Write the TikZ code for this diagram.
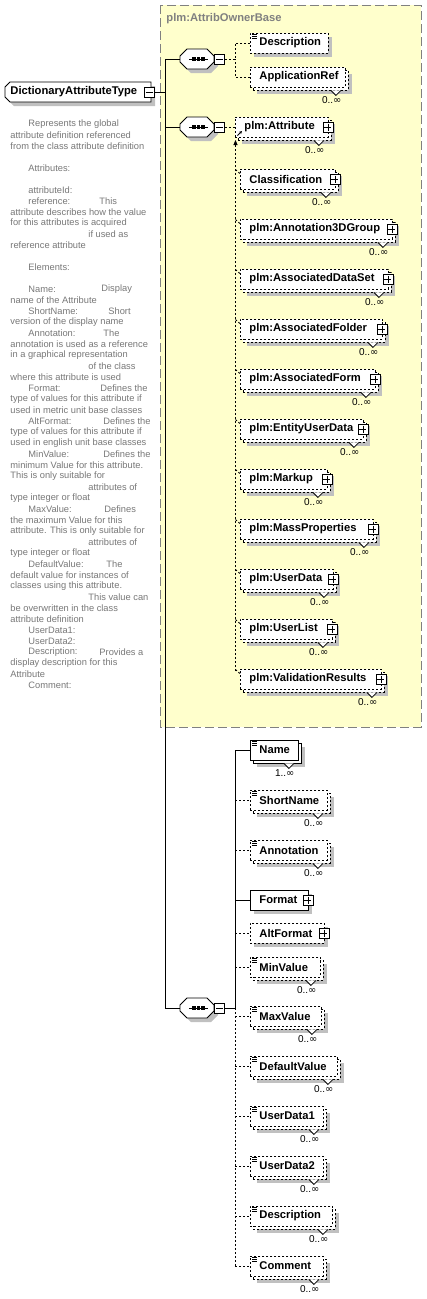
\documentclass[tikz,border=0pt]{standalone}
\usepackage{fontspec}
\setmainfont{Liberation Sans}
\newfontfamily\symf{DejaVu Sans}
\usetikzlibrary{arrows.meta}
\definecolor{shadowc}{RGB}{192,192,192}
\definecolor{yel}{RGB}{255,255,204}
\definecolor{grp}{RGB}{128,128,128}
\definecolor{desc}{RGB}{120,120,120}
\newcommand\infy{{\symf\fontsize{10}{12}\selectfont ∞}}
\tikzset{
  dsh/.style={dash pattern=on 2pt off 2pt},
  conn/.style={line width=0.9pt},
  elabel/.style={font=\fontsize{11.2}{13}\selectfont\bfseries, inner sep=0pt},
  mult/.style={font=\fontsize{10}{12}\selectfont, inner sep=0pt},
  dtext/.style={font=\fontsize{9.3}{11}\selectfont, text=desc, inner sep=0pt, anchor=west},
  ebox/.style={draw=black, fill=white, minimum height=20pt, inner sep=0pt, line width=0.9pt},
  ghost/.style={inner sep=0pt, minimum width=34pt, minimum height=20pt},
  pm/.style={draw=black, fill=white, minimum size=10pt, inner sep=0pt, line width=0.8pt},
}
% single element: name, x, y, w, text, style
\newcommand\elS[6]{%
  \fill[shadowc] (#2+4,#3-6) rectangle (#2+#4+4,#3+14);
  \node[ebox,#6,minimum width=#4pt,anchor=west] (#1) at (#2,#3) {};
  \node[elabel,anchor=west] (#1-t) at (#2+9,#3) {#5};
}
% multiple element: name, x, y, w, text, style, multiplicity
\newcommand\elM[7]{%
  \fill[shadowc] (#2+7,#3-3) rectangle (#2+#4+7,#3+17);
  \node[ebox,#6,minimum width=#4pt,anchor=west] (#1-b) at (#2+3,#3+3) {};
  \node[ebox,#6,minimum width=#4pt,anchor=west] (#1) at (#2,#3) {};
  \node[elabel,anchor=west] (#1-t) at (#2+9,#3) {#5};
  \draw[line width=0.8pt,fill=white] ([xshift=-15pt]#1.south east) ++(0,3) -- ++(5,5) -- ++(5,-5);
  \node[mult,anchor=east] (#1-m) at ([xshift=-4pt,yshift=-23pt]#1.east) {#7};
}
\newcommand\addplus[1]{%
  \node[pm] (#1-p) at ([xshift=-1pt]#1.east) {};
  \draw[line width=0.8pt] (#1-p.center) ++(-3.5,0) -- ++(7,0);
  \draw[line width=0.8pt] (#1-p.center) ++(0,-3.5) -- ++(0,7);
}
\newcommand\addicon[1]{%
  \foreach \k in {2,4,6}{\draw[line width=0.7pt] ([xshift=2pt,yshift=-\k pt]#1.north west) -- ++(5,0);}
}
% sequence compositor: name, xleft, ycenter
\newcommand\seqnode[3]{%
  \fill[shadowc] (#2+4,#3+1) -- (#2+11,#3-6) -- (#2+31,#3-6) -- (#2+38,#3+1) -- (#2+38,#3+7) -- (#2+31,#3+14) -- (#2+11,#3+14) -- (#2+4,#3+7) -- cycle;
  \draw[line width=0.9pt,fill=white] (#2,#3-3) -- (#2+7,#3-10) -- (#2+27,#3-10) -- (#2+34,#3-3) -- (#2+34,#3+3) -- (#2+27,#3+10) -- (#2+7,#3+10) -- (#2,#3+3) -- cycle;
  \node[ghost,anchor=west] (#1) at (#2,#3) {};
  \draw[line width=0.9pt] (#2+9,#3) -- (#2+28,#3);
  \foreach \d in {14,18.5,23}{\fill (#2+\d-1.6,#3-1.6) rectangle ++(3.2,3.2);}
  \node[pm,anchor=west] (#1-m) at (#2+34,#3) {};
  \draw[line width=0.8pt] (#1-m.center) ++(-3.5,0) -- ++(7,0);
}
\newcommand\dl[3]{\node[dtext] at (#1,124+11*#2) {#3};}
\begin{document}
\begin{tikzpicture}[x=1pt,y=-1pt,line width=0.9pt]
\useasboundingbox (0,0) rectangle (427,1299);
\fill[white] (0,0) rectangle (427,1299);

% ---- base type group box
\draw[grp,fill=yel,line width=1pt,dash pattern=on 9pt off 4pt] (160,5) rectangle (421,727);
\node[font=\fontsize{11.2}{13}\selectfont\bfseries,text=grp,anchor=west,inner sep=0pt] (basetitle) at (166,19) {plm:AttribOwnerBase};

% ---- root
\fill[shadowc] (9,91) -- (14,86) -- (155,86) -- (155,106) -- (14,106) -- (9,101) -- cycle;
\draw[line width=0.9pt,fill=white] (5,87) -- (10,82) -- (151,82) -- (151,102) -- (10,102) -- (5,97) -- cycle;
\node[inner sep=0pt,minimum width=146pt,minimum height=20pt,anchor=west] (root) at (5,92) {};
\node[elabel,anchor=west] (root-t) at (10,92) {DictionaryAttributeType};
\node[pm] (root-m) at (149,92) {};
\draw[line width=0.8pt] (root-m.center) ++(-3.5,0) -- ++(7,0);

\coordinate (trunkTop) at (165,59);
\coordinate (trunkMid) at (165,92);
\coordinate (trunkBot) at (165,1008);
\draw[conn] (root-m.east) -- (trunkMid);
\draw[conn] (trunkTop) -- (trunkBot);

% ---- sequences
\seqnode{seq1}{180}{59}
\seqnode{seq2}{180}{127}
\seqnode{seq3}{180}{1008}
\draw[conn] (trunkTop) -- (seq1.west);
\draw[conn] (seq2.west -| trunkTop) -- (seq2.west);
\draw[conn] (trunkBot) -- (seq3.west);

% ---- sequence 1 children
\elS{desc1}{250}{43}{78}{Description}{dsh}
\addicon{desc1}
\elM{appref}{250}{77}{95}{ApplicationRef}{dsh}{0..\infy}
\coordinate (b1) at (235,59);
\draw[conn,dsh] (seq1-m.east) -- (b1);
\draw[conn,dsh] (desc1.west) -| (b1);
\draw[conn,dsh] (appref.west) -| (b1);

% ---- sequence 2: substitution group
\elM{attr}{235}{127}{93}{plm:Attribute}{dsh}{0..\infy}
\addplus{attr}
\draw[line width=0.8pt,-{Stealth[length=3pt,width=3pt]}] (237.5,135.5) -- (242,131);
\draw[conn,dsh] (seq2-m.east) -- (attr.west);
\coordinate (subTop) at (235.5,140);
\coordinate (subBot) at (235.5,671);
\draw[conn,dsh] (subBot) -- (235.5,146);
\draw[conn,-{Triangle[length=5pt,width=4pt]}] (235.5,146) -- (subTop);

\foreach \nm/\yy/\ww/\tx in {
  cls/179/95/Classification,
  ann3d/229/152/plm:Annotation3DGroup,
  ads/279/148/plm:AssociatedDataSet,
  afold/329/142/plm:AssociatedFolder,
  aform/379/135/plm:AssociatedForm,
  eud/429/123/plm:EntityUserData,
  mkp/479/87/plm:Markup,
  mass/529/133/plm:MassProperties,
  ud/579/93/plm:UserData,
  ul/629/92/plm:UserList,
  vr/679/141/plm:ValidationResults}{
  \elM{\nm}{240}{\yy}{\ww}{\tx}{dsh}{0..\infy}
  \addplus{\nm}
  \draw[conn,dsh] (\nm.north west -| subTop) ++(0,1) -- ([yshift=-5pt]\nm.north west);
}

% ---- sequence 3 children
\coordinate (b3) at (235,1008);
\draw[conn] (seq3-m.east) -- (b3);
\elM{name}{250}{750}{48}{Name}{}{1..\infy}
\addicon{name}
\elM{sname}{250}{800}{77}{ShortName}{dsh}{0..\infy}
\addicon{sname}
\elM{annot}{250}{850}{77}{Annotation}{dsh}{0..\infy}
\addicon{annot}
\elS{fmt}{250}{900}{58}{Format}{}
\addplus{fmt}
\elS{afmt}{250}{933}{74}{AltFormat}{dsh}
\addplus{afmt}
\elM{minv}{250}{967}{70}{MinValue}{dsh}{0..\infy}
\addicon{minv}
\elM{maxv}{250}{1016}{71}{MaxValue}{dsh}{0..\infy}
\addicon{maxv}
\elM{defv}{250}{1066}{87}{DefaultValue}{dsh}{0..\infy}
\addicon{defv}
\elM{ud1}{250}{1116}{73}{UserData1}{dsh}{0..\infy}
\addicon{ud1}
\elM{ud2}{250}{1166}{73}{UserData2}{dsh}{0..\infy}
\addicon{ud2}
\elM{desc2}{250}{1216}{82}{Description}{dsh}{0..\infy}
\addicon{desc2}
\elM{comm}{250}{1266}{73}{Comment}{dsh}{0..\infy}
\addicon{comm}

\draw[conn] (name.west -| b3) -- (b3);
\draw[conn,dsh] (b3) -- (comm.west -| b3);
\draw[conn] (name.west -| b3) -- (name.west);
\draw[conn] (fmt.west -| b3) -- (fmt.west);
\foreach \nm in {sname,annot,afmt,minv,maxv,defv,ud1,ud2,desc2,comm}{
  \draw[conn,dsh] (\nm.west -| b3) -- (\nm.west);
}

% ---- documentation text
\dl{28}{0}{Represents the global}
\dl{10}{1}{attribute definition referenced}
\dl{10}{2}{from the class attribute definition}
\dl{28}{4}{Attributes:}
\dl{28}{6}{attributeId:}
\dl{28}{7}{reference:}\dl{99}{7}{This}
\dl{10}{8}{attribute describes how the value}
\dl{10}{9}{for this attributes is acquired}
\dl{88}{10}{if used as}
\dl{10}{11}{reference attribute}
\dl{28}{13}{Elements:}
\dl{28}{15}{Name:}\dl{101}{15}{Display}
\dl{10}{16}{name of the Attribute}
\dl{28}{17}{ShortName:}\dl{108}{17}{Short}
\dl{10}{18}{version of the display name}
\dl{28}{19}{Annotation:}\dl{103}{19}{The}
\dl{10}{20}{annotation is used as a reference}
\dl{10}{21}{in a graphical representation}
\dl{88}{22}{of the class}
\dl{10}{23}{where this attribute is used}
\dl{28}{24}{Format:}\dl{100}{24}{Defines the}
\dl{10}{25}{type of values for this attribute if}
\dl{10}{26}{used in metric unit base classes}
\dl{28}{27}{AltFormat:}\dl{103}{27}{Defines the}
\dl{10}{28}{type of values for this attribute if}
\dl{10}{29}{used in english unit base classes}
\dl{28}{30}{MinValue:}\dl{103}{30}{Defines the}
\dl{10}{31}{minimum Value for this attribute.}
\dl{10}{32}{This is only suitable for}
\dl{88}{33}{attributes of}
\dl{10}{34}{type integer or float}
\dl{28}{35}{MaxValue:}\dl{104}{35}{Defines}
\dl{10}{36}{the maximum Value for this}
\dl{10}{37}{attribute. This is only suitable for}
\dl{88}{38}{attributes of}
\dl{10}{39}{type integer or float}
\dl{28}{40}{DefaultValue:}\dl{106}{40}{The}
\dl{10}{41}{default value for instances of}
\dl{10}{42}{classes using this attribute.}
\dl{88}{43}{This value can}
\dl{10}{44}{be overwritten in the class}
\dl{10}{45}{attribute definition}
\dl{28}{46}{UserData1:}
\dl{28}{47}{UserData2:}
\dl{28}{48}{Description:}\dl{99}{48}{Provides a}
\dl{10}{49}{display description for this}
\dl{10}{50}{Attribute}
\dl{28}{51}{Comment:}
\end{tikzpicture}
\end{document}
